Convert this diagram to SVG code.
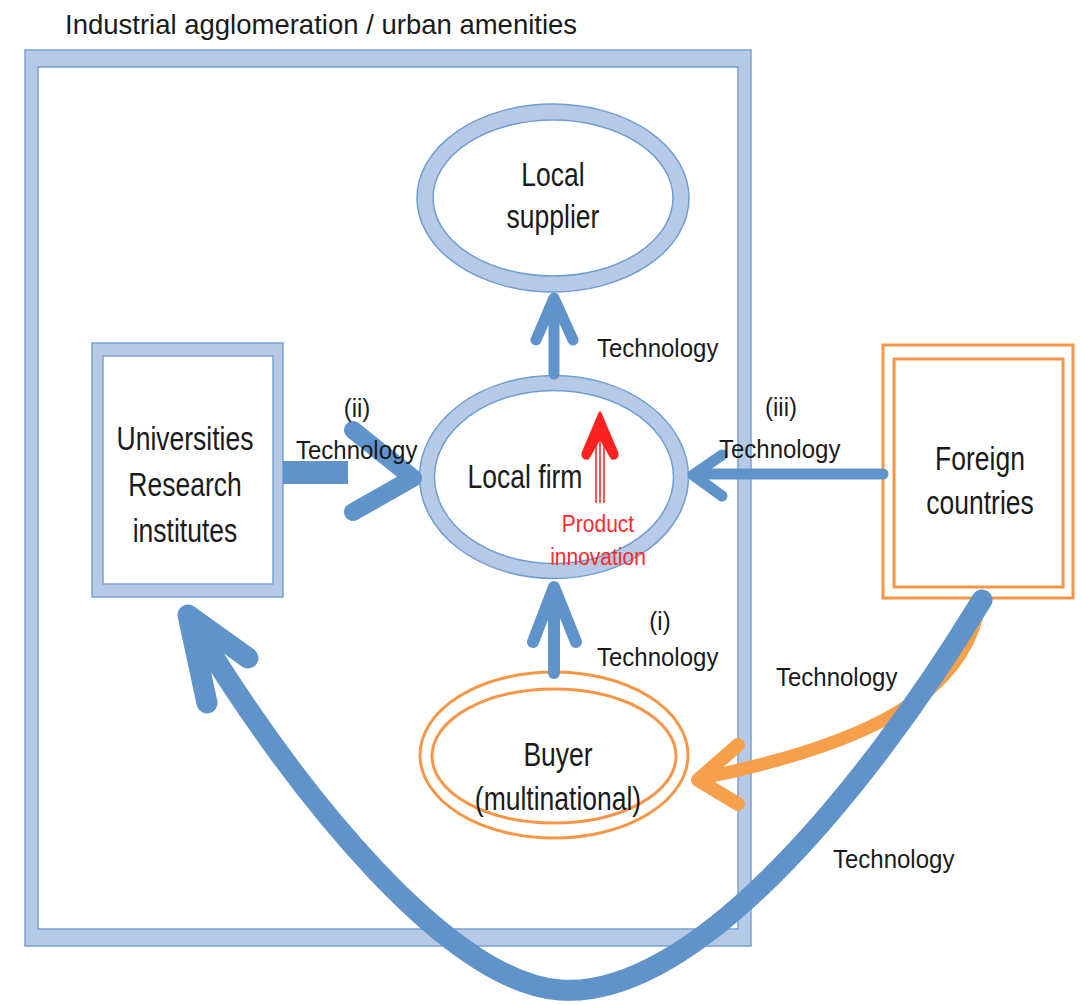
<svg xmlns="http://www.w3.org/2000/svg" width="1082" height="1005" viewBox="0 0 1082 1005">
<style>
text{font-family:"Liberation Sans",Arial,sans-serif;fill:#1a1a1a}
.node{font-size:26.5px;text-anchor:middle}
.lbl{font-size:24px}
.red{font-size:21px;fill:#ff2a2a;text-anchor:middle}
.band{fill:#b6cae7;stroke:#7aa0d4;stroke-width:1.5;fill-rule:evenodd}
.ring{fill:#fff;stroke:#b6cae7}
.edge{fill:none;stroke:#6f9dd2;stroke-width:1.5}
.blue{fill:none;stroke:#5f93c9;stroke-linecap:round;stroke-linejoin:round}
.orange{fill:none;stroke:#f7a04c;stroke-linecap:round;stroke-linejoin:round}
.orl{fill:none;stroke:#f79646;stroke-width:3}
</style>

<text x="65" y="34" style="font-size:27.5px">Industrial agglomeration / urban amenities</text>

<g id="frame">
<path class="band" d="M25 50 H751 V946 H25 Z M38 67 V929 H738 V67 Z"/>
</g>

<g id="local-supplier">
<ellipse class="ring" cx="553" cy="198" rx="128" ry="86" stroke-width="16"/>
<ellipse class="edge" cx="553" cy="198" rx="136" ry="94"/>
<ellipse class="edge" cx="553" cy="198" rx="120" ry="78"/>
<text class="node" transform="translate(553 186) scale(1 1.22)">Local</text>
<text class="node" transform="translate(553 228) scale(1 1.22)">supplier</text>
</g>

<g id="local-firm">
<ellipse class="ring" cx="554" cy="477" rx="127" ry="94" stroke-width="15"/>
<ellipse class="edge" cx="554" cy="477" rx="134.5" ry="101.5"/>
<ellipse class="edge" cx="554" cy="477" rx="119.5" ry="86.5"/>
<text class="node" transform="translate(525 488) scale(1 1.22)">Local firm</text>
</g>

<g id="universities">
<path class="band" d="M92 343 H283 V597 H92 Z M103 356 V584 H273 V356 Z"/>
<text class="node" transform="translate(185 450) scale(1 1.22)">Universities</text>
<text class="node" transform="translate(185 496) scale(1 1.22)">Research</text>
<text class="node" transform="translate(185 542) scale(1 1.22)">institutes</text>
</g>

<g id="foreign-countries">
<rect class="orl" x="883" y="345" width="190" height="253" fill="#fff"/>
<rect class="orl" x="894" y="359" width="169" height="228"/>
<text class="node" transform="translate(980 470) scale(1 1.22)">Foreign</text>
<text class="node" transform="translate(980 514) scale(1 1.22)">countries</text>
</g>

<g id="buyer">
<ellipse class="orl" cx="554" cy="755" rx="134" ry="83" fill="#fff"/>
<ellipse class="orl" cx="554" cy="756" rx="122" ry="67"/>
<text class="node" transform="translate(558 766) scale(1 1.22)">Buyer</text>
<text class="node" transform="translate(558 810) scale(1 1.22)">(multinational)</text>
</g>

<g id="connectors">
<!-- firm -> supplier -->
<path class="blue" stroke-width="11" d="M554 374 V300" stroke-linecap="butt"/>
<path class="blue" stroke-width="11" d="M536 340 L554 298 L573 340"/>
<!-- (ii) universities -> firm -->
<rect x="283" y="461" width="65" height="23" fill="#5f93c9"/>
<path class="blue" stroke-width="18" d="M353 430 L413 478 L353 512"/>
<!-- (iii) foreign -> firm -->
<path class="blue" stroke-width="11" d="M883 474 H700" stroke-linecap="butt"/>
<path class="blue" stroke-width="11" d="M722 455 L693 475 L722 496"/>
<!-- (i) buyer -> firm -->
<path class="blue" stroke-width="12" d="M554 673 V595" stroke-linecap="butt"/>
<path class="blue" stroke-width="12" d="M533 642 L554 587 L576 642"/>
<!-- product innovation -->
<g stroke="#ff2020" stroke-width="1.5">
<line x1="596" y1="437" x2="596" y2="503"/>
<line x1="600" y1="437" x2="600" y2="503"/>
<line x1="604" y1="437" x2="604" y2="503"/>
</g>
<path d="M600 413 L617 453 Q618 459 612 458 L600 437 L588 458 Q582 459 583 453 Z" fill="#ff2020" stroke="#ff2020" stroke-width="3" stroke-linejoin="round"/>
<!-- foreign -> buyer (orange) -->
<path class="orange" stroke-width="13" d="M978 612 C960 690 880 742 702 778" stroke-linecap="butt"/>
<path class="orange" stroke-width="14" d="M738 745 L698 780 L738 804"/>
<!-- foreign -> universities (blue U) -->
<path class="blue" stroke-width="21" stroke-linecap="butt" d="M982 600 C860 800 690 1000 560 990 C450 982 300 800 192 622"/>
<path class="blue" stroke-width="21" d="M207 703 L188 615 L248 658"/>
</g>

<g id="labels">
<text class="lbl" transform="translate(597 357) scale(1 1.1)">Technology</text>
<text class="lbl" text-anchor="middle" transform="translate(357 417) scale(1 1.1)">(ii)</text>
<text class="lbl" transform="translate(296 459) scale(1 1.1)">Technology</text>
<text class="lbl" text-anchor="middle" transform="translate(781 416) scale(1 1.1)">(iii)</text>
<text class="lbl" transform="translate(719 458) scale(1 1.1)">Technology</text>
<text class="lbl" text-anchor="middle" transform="translate(660 630) scale(1 1.1)">(i)</text>
<text class="lbl" transform="translate(597 666) scale(1 1.1)">Technology</text>
<text class="lbl" transform="translate(776 686) scale(1 1.1)">Technology</text>
<text class="lbl" transform="translate(833 868) scale(1 1.1)">Technology</text>
<text class="red" transform="translate(598 532) scale(1 1.15)">Product</text>
<text class="red" transform="translate(598 565) scale(1 1.15)">innovation</text>
</g>
</svg>
